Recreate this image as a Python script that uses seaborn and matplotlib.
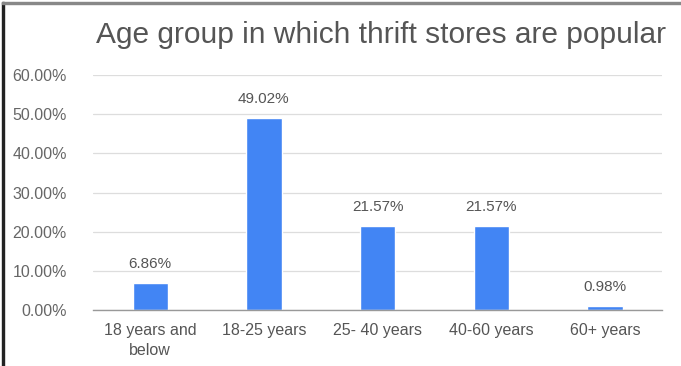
import matplotlib
matplotlib.use("Agg")
import matplotlib.pyplot as plt
import seaborn as sns
import pandas as pd
from matplotlib.patches import Rectangle

categories = ["18 years and\nbelow", "18-25 years", "25- 40 years", "40-60 years", "60+ years"]
values = [6.86, 49.02, 21.57, 21.57, 0.98]
yticks = [0, 10, 20, 30, 40, 50, 60]

df = pd.DataFrame({"cat": categories, "val": values})

sns.set_theme(style="white")
plt.rcParams['font.family'] = ['Liberation Sans', 'DejaVu Sans']

fig = plt.figure(figsize=(6.81, 3.66), dpi=100)
ax = fig.add_axes([0.137, 0.153, 0.835, 0.642])
sns.barplot(data=df, x="cat", y="val", color="#4285F4", width=0.31, ax=ax, saturation=1)

ax.set_ylim(0, 60)
ax.set_yticks(yticks)
ax.set_yticklabels([f"{t:.2f}%" for t in yticks], color="#666666", fontsize=11.5)
ax.tick_params(axis="x", colors="#555555", labelsize=11.5, length=0, pad=9)
ax.tick_params(axis="y", length=0, pad=19)
for lab in ax.get_xticklabels():
    lab.set_linespacing(1.45)
ax.set_xlabel("")
ax.set_ylabel("")
ax.grid(axis="y", color="#dddddd", linewidth=0.9)
ax.set_axisbelow(True)
for s in ["top", "right", "left"]:
    ax.spines[s].set_visible(False)
ax.spines["bottom"].set_color("#999999")
ax.spines["bottom"].set_linewidth(1)
ax.set_xlim(-0.5, 4.5)

for i, v in enumerate(values):
    ax.text(i, v + 3.0, f"{v:.2f}%", ha="center", va="bottom", color="#555555", fontsize=11)

fig.text(0.56, 0.905, "Age group in which thrift stores are popular", ha="center", va="center",
         color="#555555", fontsize=21.5)

fig.patches.append(Rectangle((0.003, 0), 0.003, 0.995, transform=fig.transFigure, color="#222222", zorder=10))
fig.patches.append(Rectangle((0.003, 0.99), 0.997, 0.004, transform=fig.transFigure, color="#888888", zorder=10))

fig.savefig("out.png", dpi=100, facecolor="white")
